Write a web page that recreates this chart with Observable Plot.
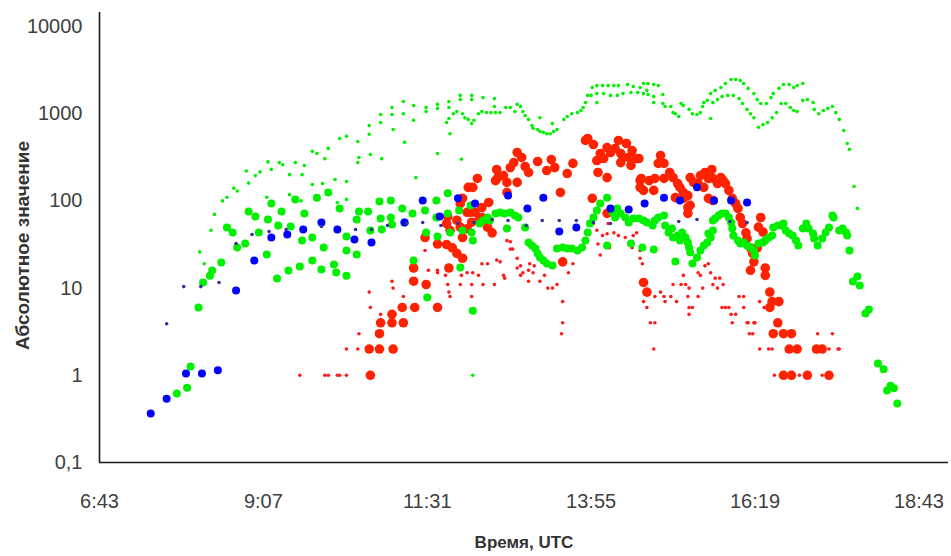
<!DOCTYPE html>
<html><head><meta charset="utf-8">
<script src="https://cdn.jsdelivr.net/npm/d3@7"></script>
<script src="https://cdn.jsdelivr.net/npm/@observablehq/plot@0.6"></script>
<style>body{margin:0;background:#fff;} #chart svg{display:block;}</style>
</head><body><div id="chart"></div>
<script>
const xTickLabels = ["6:43","9:07","11:31","13:55","16:19","18:43"];
const yTickValues = [0.1, 1, 10, 100, 1000, 10000];
const xAxisTitle = "Время, UTC";
const yAxisTitle = "Абсолютное значение";

// small green dots
const greenSmall = [["8:11",26],["8:15",19],["8:21",46],["8:24",70],["8:31",100],["8:35",110],["8:41",140],["8:44",130],["8:52",220],["8:54",160],["9:00",195],["9:04",215],["9:10",110],["9:11",280],["9:14",230],["9:21",275],["9:24",260],["9:30",200],["9:30",118],["9:35",275],["9:35",107],["9:40",100],["9:41",200],["9:43",255],["9:50",370],["9:50",154],["9:54",350],["9:59",158],["10:01",305],["10:04",400],["10:10",176],["10:12",96],["10:14",520],["10:20",550],["10:20",104],["10:20",167],["10:30",480],["10:30",275],["10:31",315],["10:40",730],["10:40",580],["10:41",340],["10:50",980],["10:50",790],["10:51",305],["11:00",1180],["11:00",980],["11:01",660],["11:10",1380],["11:10",1000],["11:11",470],["11:19",1240],["11:19",840],["11:21",185],["11:30",1180],["11:30",1060],["11:40",1280],["11:40",1150],["11:40",350],["11:48",790],["11:50",1380],["11:50",1180],["11:50",880],["11:51",590],["11:54",1000],["11:57",1060],["12:00",1620],["12:00",1450],["12:01",300],["12:02",1000],["12:04",900],["12:07",860],["12:10",1620],["12:10",1450],["12:10",770],["12:11",1],["12:12",840],["12:16",1000],["12:19",1060],["12:20",1530],["12:23",1030],["12:27",1030],["12:30",1490],["12:30",1210],["12:31",1030],["12:35",1030],["12:40",1180],["12:44",1180],["12:48",1060],["12:50",1280],["12:53",1210],["12:55",1060],["12:57",950],["13:00",860],["13:03",730],["13:04",680],["13:08",660],["13:10",900],["13:10",625],["13:13",610],["13:16",590],["13:19",590],["13:21",770],["13:22",625],["13:25",660],["13:31",860],["13:34",930],["13:38",1000],["13:43",1030],["13:46",1090],["13:48",1180],["13:50",1340],["13:52",1620],["13:55",1620],["13:56",2000],["14:00",2100],["14:00",1700],["14:00",1340],["14:05",2100],["14:06",1700],["14:10",2100],["14:12",1620],["14:15",2100],["14:18",1620],["14:19",2100],["14:23",1700],["14:27",2160],["14:30",1750],["14:32",2050],["14:36",1750],["14:38",2000],["14:41",2220],["14:41",1700],["14:44",1850],["14:45",2220],["14:45",1660],["14:50",2160],["14:50",1570],["14:50",1340],["14:54",2100],["14:58",1660],["14:58",1310],["15:00",1210],["15:05",1210],["15:07",1030],["15:09",1000],["15:12",930],["15:14",1310],["15:16",1240],["15:21",1120],["15:24",1000],["15:28",980],["15:31",1030],["15:33",1210],["15:34",1340],["15:37",1420],["15:40",1700],["15:40",880],["15:42",1340],["15:44",1850],["15:46",1450],["15:49",2000],["15:50",1570],["15:53",2220],["15:55",1620],["15:58",2470],["16:00",1620],["16:02",2470],["16:05",1490],["16:06",2400],["16:08",1310],["16:09",2220],["16:12",1120],["16:13",1950],["16:15",1000],["16:18",1700],["16:18",900],["16:21",1450],["16:22",700],["16:24",1310],["16:26",750],["16:29",1310],["16:30",790],["16:33",1530],["16:34",900],["16:35",1700],["16:38",1030],["16:40",1950],["16:42",1310],["16:44",2160],["16:46",1310],["16:49",2160],["16:50",1180],["16:53",2000],["16:53",1090],["16:56",2100],["16:56",1060],["17:01",2220],["17:01",1420],["17:05",1450],["17:10",1340],["17:11",1120],["17:15",1000],["17:19",1090],["17:23",1150],["17:27",1210],["17:30",1030],["17:33",860],["17:37",640],["17:40",455],["17:42",390],["17:46",146],["17:49",82]];

// large green dots
const greenLarge = [["7:51",0.62],["8:00",0.72],["8:03",1.26],["8:10",6.0],["8:14",11.6],["8:20",13.9],["8:22",15.9],["8:30",19.7],["8:35",49.5],["8:40",43.4],["8:44",29.2],["8:51",32.5],["8:54",75.6],["9:00",66.2],["9:03",43.4],["9:10",24.3],["9:11",61.2],["9:14",93.4],["9:19",12.9],["9:20",52.2],["9:23",75.6],["9:29",15.9],["9:31",50.9],["9:35",104],["9:39",17.7],["9:41",35.2],["9:43",71.7],["9:50",20.7],["9:50",38.1],["9:54",109],["9:58",16.3],["10:00",29.2],["10:04",125],["10:09",18.7],["10:11",15.1],["10:14",81.8],["10:20",13.9],["10:20",39.1],["10:20",27.0],["10:29",24.3],["10:29",61.2],["10:31",75.6],["10:39",75.6],["10:41",45.8],["10:49",98.5],["10:50",62.8],["10:51",47.0],["10:59",101],["10:59",64.5],["11:00",53.6],["11:09",81.8],["11:11",56.5],["11:18",71.7],["11:19",20.7],["11:29",77.6],["11:30",43.4],["11:31",7.8],["11:39",101],["11:39",64.5],["11:40",39.1],["11:49",122],["11:49",71.7],["11:51",43.4],["11:59",77.6],["12:00",17.2],["12:02",45.8],["12:09",88.6],["12:10",43.4],["12:11",35.2],["12:11",5.5],["12:17",55.1],["12:20",59.6],["12:24",64.5],["12:26",59.6],["12:31",71.7],["12:35",73.6],["12:39",71.7],["12:41",48.2],["12:44",73.6],["12:48",68.0],["12:51",64.5],["12:57",49.5],["13:00",33.3],["13:03",30.8],["13:06",28.5],["13:08",24.9],["13:10",22.4],["13:13",20.7],["13:16",19.1],["13:21",18.2],["13:25",28.5],["13:30",29.2],["13:34",28.5],["13:38",28.5],["13:43",27.0],["13:47",29.2],["13:50",35.2],["13:52",43.4],["13:54",55.1],["13:57",64.5],["14:00",77.6],["14:03",93.4],["14:09",109],["14:09",30.8],["14:14",73.6],["14:16",64.5],["14:18",81.8],["14:21",71.7],["14:25",64.5],["14:28",56.5],["14:30",32.5],["14:32",62.8],["14:37",62.8],["14:40",29.2],["14:41",59.6],["14:44",56.5],["14:49",52.2],["14:50",27.7],["14:51",59.6],["14:54",64.5],["14:59",68.0],["15:00",52.2],["15:03",43.4],["15:06",48.2],["15:07",38.1],["15:09",20.2],["15:11",40.1],["15:13",35.2],["15:15",43.4],["15:18",38.1],["15:20",33.3],["15:21",29.2],["15:22",25.6],["15:24",19.1],["15:28",22.4],["15:31",27.0],["15:34",30.8],["15:37",33.3],["15:38",42.3],["15:40",38.1],["15:42",45.8],["15:42",59.6],["15:44",62.8],["15:47",68.0],["15:50",71.7],["15:53",71.7],["15:56",64.5],["15:58",56.5],["15:59",48.2],["16:00",40.1],["16:04",35.2],["16:06",32.5],["16:09",33.3],["16:12",30.8],["16:15",29.2],["16:18",27.0],["16:19",23.7],["16:22",32.5],["16:26",33.3],["16:28",35.2],["16:31",38.1],["16:34",40.1],["16:35",49.5],["16:39",52.2],["16:42",52.2],["16:44",55.1],["16:46",45.8],["16:49",42.3],["16:52",40.1],["16:55",35.2],["16:57",30.8],["17:01",48.2],["17:04",55.1],["17:06",48.2],["17:10",42.3],["17:11",37.1],["17:14",30.8],["17:18",37.1],["17:21",43.4],["17:24",49.5],["17:27",68.0],["17:28",64.5],["17:33",45.8],["17:36",48.2],["17:39",43.4],["17:40",40.1],["17:42",27.0],["17:45",11.9],["17:49",13.6],["17:51",10.7],["17:56",5.1],["17:59",5.7],["18:07",1.37],["18:12",1.17],["18:15",0.67],["18:18",0.76],["18:21",0.71],["18:24",0.475]];

// large red dots
const redLarge = [["10:41",1],["10:40",2],["10:49",2],["11:01",2],["10:49",3],["10:50",4],["11:00",4],["11:00",5],["11:10",4],["11:09",6],["11:20",6],["11:19",12],["11:19",17],["11:30",11],["11:40",6],["11:50",17],["11:29",38],["11:40",32],["11:48",31.6],["11:48",55],["11:49",66],["11:51",46],["11:53",29],["11:57",60],["11:57",25],["12:00",93],["12:00",50],["12:02",38],["12:02",22],["12:02",107],["12:06",74],["12:06",48],["12:07",143],["12:09",74],["12:10",57],["12:11",143],["12:13",74],["12:15",181],["12:17",63],["12:19",84],["12:19",64.5],["12:24",50],["12:25",96],["12:28",43],["12:31",171],["12:32",229],["12:33",185],["12:38",195],["12:41",163],["12:41",125],["12:44",241],["12:47",275],["12:50",359],["12:50",163],["12:54",315],["12:57",248],["13:00",212],["13:08",283],["13:16",223],["13:20",298],["13:23",241],["13:28",125],["13:30",20],["13:34",206],["13:39",269],["13:50",493],["13:52",520],["13:56",107],["13:57",443],["14:00",290],["14:01",212],["14:03",350],["14:06",306],["14:09",409],["14:09",185],["14:09",72],["14:12",359],["14:16",399],["14:19",493],["14:21",350],["14:21",275],["14:23",315],["14:26",455],["14:28",315],["14:30",255],["14:31",378],["14:34",306],["14:37",306],["14:38",171],["14:38",143],["14:39",181],["14:41",132],["14:41",11.6],["14:44",9],["14:46",171],["14:50",132],["14:51",181],["14:54",269],["14:56",332],["14:59",269],["14:59",181],["15:04",212],["15:07",185],["15:09",109],["15:11",158],["15:13",143],["15:16",125],["15:16",107],["15:20",115],["15:20",84],["15:20",72],["15:22",89],["15:22",185],["15:25",163],["15:29",158],["15:31",195],["15:34",143],["15:35",212],["15:38",181],["15:38",107],["15:41",229],["15:42",181],["15:42",101],["15:46",158],["15:49",185],["15:51",171],["15:53",158],["15:56",132],["15:59",107],["16:02",93],["16:04",82],["16:06",64.5],["16:08",55],["16:11",43],["16:12",37],["16:15",29],["16:17",25],["16:18",20],["16:15",16],["16:21",29],["16:22",50],["16:24",64.5],["16:26",44],["16:28",17],["16:28",14],["16:32",9],["16:34",7],["16:40",7],["16:32",6],["16:39",4],["16:35",3],["16:44",3],["16:51",3],["16:49",2],["16:56",2],["17:13",2],["17:18",2],["16:44",1],["16:51",1],["17:05",1],["17:24",1]];

// small red dots
const redSmall = [["9:39",1],["10:01",1],["10:04",1],["10:12",1],["10:14",1],["10:20",1],["10:20",2],["10:30",2],["10:31",3],["10:41",6],["10:40",9],["10:50",5],["11:00",12],["11:01",10],["11:10",8],["11:29",27],["11:32",16],["11:40",16],["11:40",15],["11:47",14],["11:49",11],["11:50",9],["11:51",8],["12:00",11],["12:01",14],["12:06",15],["12:10",11],["12:10",8],["12:11",15],["12:16",14],["12:19",19],["12:20",11],["12:24",19],["12:30",11],["12:32",21],["12:35",20],["12:38",14],["12:39",13],["12:41",35],["12:44",34],["12:44",28],["12:46",28],["12:50",22],["12:50",17],["12:53",18],["12:53",14],["12:55",15],["13:00",12],["13:00",16],["13:01",19],["13:04",15],["13:05",18],["13:10",12],["13:14",14],["13:17",10],["13:21",10],["13:25",11],["13:30",7],["13:30",4],["13:29",3],["13:35",15],["13:39",19],["13:57",55],["14:00",46],["14:01",32],["14:03",24],["14:05",40],["14:09",42],["14:10",55],["14:11",29],["14:15",43],["14:19",40],["14:25",38],["14:31",29],["14:32",40],["14:35",43],["14:38",27],["14:38",22],["14:40",19],["14:41",7],["14:44",6],["14:47",4],["14:51",4],["14:50",2],["14:51",8],["14:56",9],["14:59",8],["15:00",7],["15:05",8],["15:07",11],["15:10",7],["15:14",11],["15:16",14],["15:18",11],["15:20",8],["15:21",10],["15:21",6],["15:24",6],["15:21",5],["15:29",15],["15:29",8],["15:31",14],["15:33",10],["15:35",18],["15:38",19],["15:40",15],["15:42",11],["15:44",13],["15:46",10],["15:48",13],["15:51",11],["15:50",6],["15:53",6],["15:56",6],["15:58",5],["15:59",4],["16:02",5],["16:05",8],["16:09",8],["16:09",6],["16:12",4],["16:13",4],["16:18",4],["16:19",4],["16:14",3],["16:17",3],["16:23",7],["16:27",6],["16:23",2],["16:31",2],["16:34",2],["16:36",1],["16:58",1],["17:18",1],["17:24",2],["17:32",2],["17:33",2],["17:14",3],["17:27",3]];

// large blue dots
const blueLarge = [["7:28",0.365],["7:42",0.54],["7:59",1.05],["8:13",1.05],["8:27",1.14],["8:43",9.4],["8:59",20.7],["9:14",38.1],["9:28",41.2],["9:42",47],["9:58",56.5],["10:12",47],["10:27",36.2],["10:42",33.3],["11:11",56.5],["11:27",101],["11:42",66.2],["11:58",107],["12:13",93.4],["12:42",115],["12:59",81.8],["13:13",109],["13:27",44.6],["13:42",49.5],["14:12",81.8],["14:28",79.7],["14:42",93.4],["14:59",109],["15:13",101],["15:28",143],["15:43",101],["15:58",101],["16:12",96]];

// small dark-blue dots
const blueSmall = [["7:42",3.9],["7:57",10.4],["8:12",10.4],["8:28",11.6],["8:43",32.5],["8:57",41.2],["9:12",44.6],["9:27",47],["9:58",50.9],["10:28",47],["10:42",47],["10:56",52.2],["11:13",55.1],["11:27",56.5],["11:43",52.2],["11:58",55.1],["12:12",56.5],["12:28",61.2],["12:42",59.6],["12:58",52.2],["13:12",59.6],["13:27",59.6],["13:42",59.6],["13:57",56.5],["14:12",55.1],["15:12",58],["15:28",61.2],["15:57",58],["16:12",56.5]];

const toMin = s => { const [h, m] = s.split(":").map(Number); return h * 60 + m; };
const rows = arr => arr.map(([t, v]) => ({x: toMin(t), y: v}));
const xTickValues = xTickLabels.map(toMin);
const labelOf = new Map(xTickValues.map((v, i) => [v, xTickLabels[i]]));

const xMin = toMin("6:43");
const xMax = toMin("19:09");
const yMin = 0.1, yMax = 14470;

const chart = Plot.plot({
  width: 951,
  height: 556,
  marginLeft: 99,
  marginRight: 3,
  marginTop: 12,
  marginBottom: 94,
  style: {fontFamily: "Liberation Sans, Arial, sans-serif", color: "#404040", background: "#fff"},
  x: {domain: [xMin, xMax]},
  y: {type: "log", domain: [yMin, yMax]},
  marks: [
    Plot.axisX({ticks: xTickValues, tickFormat: d => labelOf.get(d), tickSize: 0, tickPadding: 31, fontSize: 20, label: null}),
    Plot.axisY({ticks: yTickValues, tickFormat: d => String(d).replace(".", ","), tickSize: 0, tickPadding: 17, fontSize: 20, label: null}),
    Plot.dot(rows(redLarge), {x: "x", y: "y", r: 4.8, fill: "#ff2200"}),
    Plot.dot(rows(redSmall), {x: "x", y: "y", r: 1.8, fill: "#ff1a1a"}),
    Plot.dot(rows(greenLarge), {x: "x", y: "y", r: 4, fill: "#00f000"}),
    Plot.dot(rows(greenSmall), {x: "x", y: "y", r: 1.8, fill: "#00f000"}),
    Plot.dot(rows(blueLarge), {x: "x", y: "y", r: 4, fill: "#0000ff"}),
    Plot.dot(rows(blueSmall), {x: "x", y: "y", r: 1.8, fill: "#333399"}),
    Plot.ruleX([xMin], {stroke: "#1a1a1a", strokeWidth: 1.6}),
    Plot.ruleY([yMin], {stroke: "#1a1a1a", strokeWidth: 1.6}),
    Plot.text([xAxisTitle], {frameAnchor: "bottom", dy: 85, fontWeight: "bold", fontSize: 17, fill: "#333"}),
    Plot.text([yAxisTitle], {frameAnchor: "left", textAnchor: "middle", dx: -77, dy: 8, rotate: -90, fontWeight: "bold", fontSize: 19, fill: "#333"})
  ]
});
document.getElementById("chart").appendChild(chart);
</script>
</body></html>
